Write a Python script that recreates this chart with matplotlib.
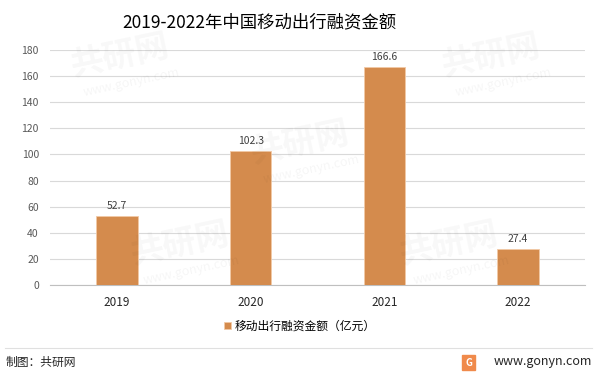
import numpy as np
import matplotlib.pyplot as plt
from matplotlib.patches import Rectangle

plt.rcParams['font.family'] = ['Noto Sans CJK SC', 'DejaVu Sans']

# data
years = ['2019', '2020', '2021', '2022']
amounts = [52.7, 102.3, 166.6, 27.4]
y_ticks = list(range(0, 181, 20))

bar_color = '#D48B4D'
grid_color = '#D9D9D9'

fig = plt.figure(figsize=(5.99, 3.76), dpi=100)
ax = fig.add_axes([50 / 599, 1 - 285 / 376, 535 / 599, 235 / 376])

x = np.arange(len(years))
bars = ax.bar(x, amounts, width=0.31, color=bar_color, edgecolor='#F2C9A6',
              linewidth=0.6, label='移动出行融资金额（亿元）', zorder=3)
for b, v in zip(bars, amounts):
    ax.text(b.get_x() + b.get_width() / 2, v + 4, f'{v}', ha='center',
            va='bottom', fontsize=7.5, color='#404040')

ax.set_xlim(-0.5, len(years) - 0.5)
ax.set_ylim(0, 180)
ax.set_yticks(y_ticks)
ax.set_xticks(x)
ax.set_xticklabels(years, fontsize=8.5, color='#262626')
ax.tick_params(axis='y', labelsize=7.5, colors='#595959', length=0, pad=8)
ax.tick_params(axis='x', length=0, pad=8)
ax.grid(axis='y', color=grid_color, linewidth=0.8, zorder=0)
for s in ['top', 'right', 'left']:
    ax.spines[s].set_visible(False)
ax.spines['bottom'].set_color('#BFBFBF')

fig.text(0.205, 1 - 22 / 376, '2019-2022年中国移动出行融资金额', fontsize=12.5,
         va='center', ha='left', color='#000000')

leg = fig.legend(handles=[bars], labels=['移动出行融资金额（亿元）'],
                 loc='center', bbox_to_anchor=(0.5, 1 - 326 / 376),
                 frameon=False, fontsize=8.5, handlelength=0.6,
                 handleheight=0.6, handletextpad=0.3)

# footer
fig.add_artist(plt.Line2D([5 / 599, 592 / 599], [1 - 348 / 376] * 2,
                          color='#E0E0E0', linewidth=0.8))
fig.text(6 / 599, 1 - 362 / 376, '制图：共研网', fontsize=8.5, va='center',
         ha='left', color='#262626')
fig.text(592 / 599, 1 - 362 / 376, 'www.gonyn.com', fontsize=9, va='center',
         ha='right', color='#262626')
fig.add_artist(Rectangle((462 / 599, 1 - 370 / 376), 13 / 599, 15 / 376,
                         transform=fig.transFigure, color='#F08A4B'))
fig.text(468.5 / 599, 1 - 362.5 / 376, 'G', fontsize=7, fontweight='bold',
         va='center', ha='center', color='white')

# faint watermarks
for wx, wy in [(0.2, 0.85), (0.5, 0.62), (0.82, 0.85), (0.3, 0.35),
               (0.75, 0.35)]:
    fig.text(wx, wy, '共研网', fontsize=24, fontweight='bold', rotation=12,
             color='#000000', alpha=0.03, ha='center', va='center')
    fig.text(wx + 0.02, wy - 0.07, 'www.gonyn.com', fontsize=9, rotation=12,
             color='#000000', alpha=0.04, ha='center', va='center')

fig.savefig('out.png', dpi=100)
